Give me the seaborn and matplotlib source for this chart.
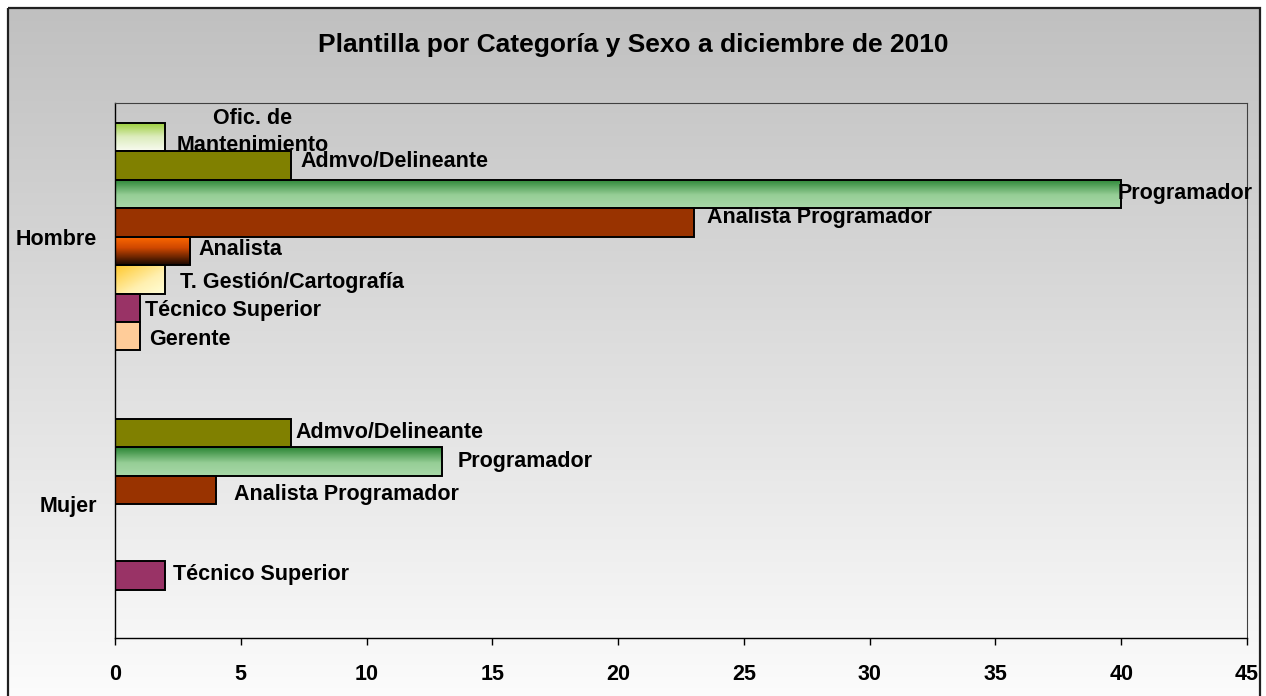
import numpy as np
import pandas as pd
import matplotlib
matplotlib.use("Agg")
import matplotlib.pyplot as plt
from matplotlib.colors import LinearSegmentedColormap, to_rgb
from matplotlib.patches import Rectangle
import seaborn as sns

# Datos de la plantilla (diciembre 2010)
sexos = ["Hombre", "Mujer"]
categorias = ["Ofic. de\nMantenimiento", "Admvo/Delineante", "Programador",
              "Analista Programador", "Analista", "T. Gestión/Cartografía",
              "Técnico Superior", "Gerente"]
hombres = [2, 7, 40, 23, 3, 2, 1, 1]
mujeres = [None, 7, 13, 4, None, None, 2, None]
xticks = [0, 5, 10, 15, 20, 25, 30, 35, 40, 45]

filas = []
for sexo, valores in zip(sexos, [hombres, mujeres]):
    for cat, v in zip(categorias, valores):
        if v is not None:
            filas.append({"Sexo": sexo, "Categoría": cat, "Personas": v})
df = pd.DataFrame(filas)

# colores base y degradados (estilo Excel)
colores = ["#c8e490", "#808000", "#5aa860", "#993300", "#c04000",
           "#ffe080", "#993366", "#ffcc99"]
degradados = {
    "Ofic. de\nMantenimiento": ("v", [(0, "#98cc34"), (0.5, "#dcecbc"), (1, "#f8fbf0")]),
    "Programador": ("v", [(0, "#2a8534"), (0.55, "#96ce96"), (1, "#a8d8a8")]),
    "Analista": ("v", [(0, "#ff6a00"), (0.4, "#d04800"), (1, "#1a0800")]),
    "T. Gestión/Cartografía": ("d", [(0, "#ffc82c"), (0.6, "#fff0b0"), (1, "#ffffd8")]),
}

# desplazamiento de las etiquetas (px) respecto al final de la barra
desplaz = {
    ("Hombre", categorias[0]): (87, 5),
    ("Hombre", categorias[1]): (9, 4),
    ("Hombre", categorias[2]): (-4, 1),
    ("Hombre", categorias[3]): (13, 5),
    ("Hombre", categorias[4]): (8, 1),
    ("Hombre", categorias[5]): (15, -3),
    ("Hombre", categorias[6]): (5, -3),
    ("Hombre", categorias[7]): (9, -3),
    ("Mujer", categorias[1]): (4, 1),
    ("Mujer", categorias[2]): (16, 0),
    ("Mujer", categorias[3]): (18, -4),
    ("Mujer", categorias[6]): (8, 1),
}

sns.set_theme(style="white")
plt.rcParams["font.family"] = ["Liberation Sans", "DejaVu Sans"]
plt.rcParams["font.weight"] = "bold"
for k in ["text.color", "axes.labelcolor", "xtick.color", "ytick.color"]:
    plt.rcParams[k] = "black"

W, H = 1266, 696
fig = plt.figure(figsize=(W / 100, H / 100), dpi=100)

# fondo con degradado gris -> blanco y marco
bg = fig.add_axes([0, 0, 1, 1], zorder=-1)
bg.axis("off")
grad = np.linspace(0, 1, 256)[:, None]
cm_bg = LinearSegmentedColormap.from_list("bg", ["#c0c0c0", "#fcfcfc"])
bg.imshow(grad, cmap=cm_bg, extent=(8, 1260, H + 5, 8), aspect="auto")
bg.add_patch(Rectangle((8, 8), 1252, H + 10, fill=False, edgecolor="#202020", linewidth=1.6))
bg.set_xlim(0, W)
bg.set_ylim(H, 0)

ax = fig.add_axes([115 / W, 1 - 638 / H, (1247 - 115) / W, (638 - 103) / H])
ax.set_facecolor("none")

sns.barplot(data=df, y="Sexo", x="Personas", hue="Categoría", order=sexos,
            hue_order=categorias, palette=colores, orient="h", width=0.85,
            saturation=1, edgecolor="black", linewidth=1.4, legend=False, ax=ax)

col_a_cat = {tuple(np.round(to_rgb(c), 3)): cat for c, cat in zip(colores, categorias)}
fs = 15.5

for p in list(ax.patches):
    cat = col_a_cat.get(tuple(np.round(p.get_facecolor()[:3], 3)))
    if cat is None:
        continue
    x0, y0 = p.get_x(), p.get_y()
    w, h = p.get_width(), p.get_height()
    if cat in degradados:
        modo, stops = degradados[cat]
        cmap = LinearSegmentedColormap.from_list(cat, stops)
        if modo == "v":
            t = np.repeat(np.linspace(0, 1, 64)[:, None], 64, axis=1)
        else:
            u = np.linspace(0, 1, 64)
            t = (u[None, :] + u[:, None]) / 2
        im = ax.imshow(t, cmap=cmap, extent=(x0, x0 + w, y0 + h, y0),
                       aspect="auto", zorder=p.get_zorder() - 0.1, interpolation="bilinear")
        im.set_clip_path(p)
        p.set_facecolor("none")
    sexo = sexos[int(round(y0 + h / 2))]
    dx, dy = desplaz.get((sexo, cat), (8, 0))
    if cat == categorias[0]:
        ax.annotate(cat, (x0 + w, y0 + h / 2), xytext=(dx, dy), textcoords="offset pixels",
                    ha="center", va="center", fontsize=fs, fontweight="bold",
                    linespacing=1.35, annotation_clip=False)
    else:
        ax.annotate(cat, (x0 + w, y0 + h / 2), xytext=(dx, dy), textcoords="offset pixels",
                    ha="left", va="center", fontsize=fs, fontweight="bold",
                    annotation_clip=False)

ax.set_xlim(0, 45)
ax.set_ylim(1.5, -0.5)
ax.set_xticks(xticks)
ax.set_xticklabels([str(v) for v in xticks], fontsize=fs, fontweight="bold")
ax.set_yticks([0, 1])
ax.set_yticklabels(sexos, fontsize=fs, fontweight="bold")
ax.tick_params(axis="x", direction="out", length=5, width=1, color="black", pad=14, bottom=True)
ax.tick_params(axis="y", length=0, pad=13)
ax.set_xlabel("")
ax.set_ylabel("")
for lado in ["left", "bottom"]:
    ax.spines[lado].set_color("black")
    ax.spines[lado].set_linewidth(1.0)
for lado in ["top", "right"]:
    ax.spines[lado].set_color("#404040")
    ax.spines[lado].set_linewidth(0.8)

fig.text(0.5, 1 - 45 / H, "Plantilla por Categoría y Sexo a diciembre de 2010",
         ha="center", va="center", fontsize=19, fontweight="bold")

fig.savefig("out.png", dpi=100)
